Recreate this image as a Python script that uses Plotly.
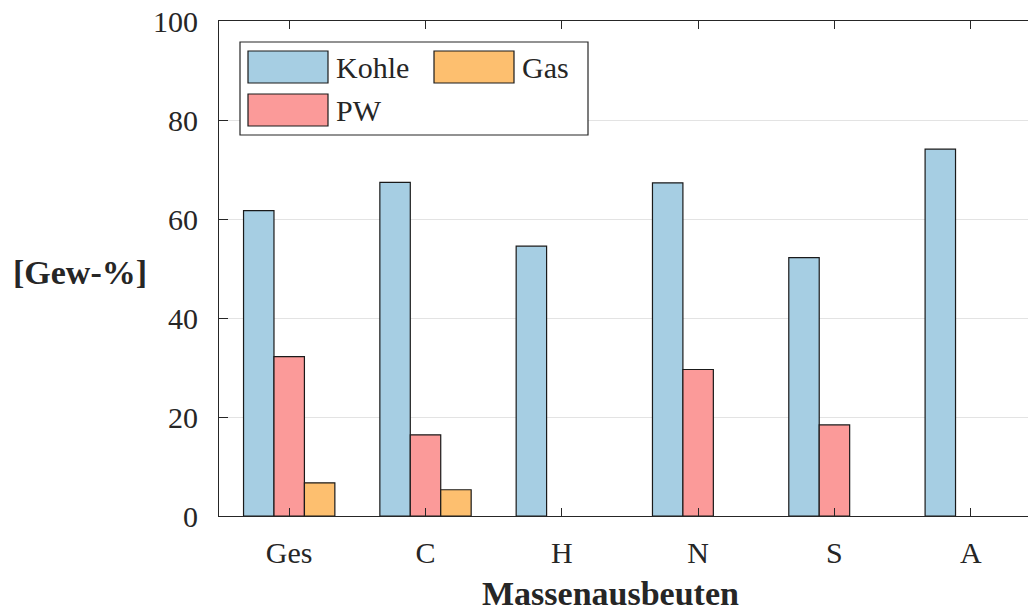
import plotly.graph_objects as go

categories = ["Ges", "C", "H", "N", "S", "A"]
series_names = ["Kohle", "PW", "Gas"]
kohle = [61.7, 67.4, 54.5, 67.3, 52.2, 74.1]
pw = [32.2, 16.4, None, 29.6, 18.4, None]
gas = [6.7, 5.3, None, None, None, None]
colors = {"Kohle": "#a6cee3", "PW": "#fb9a99", "Gas": "#fdbf6f"}
y_ticks = [0, 20, 40, 60, 80, 100]

W, H = 1028, 612
L, R, T, B = 219, 0, 21, 96
PW_ = W - L - R
PH_ = H - T - B

def xp(px):
    return (px - L) / PW_

def yp(py):
    return (H - B - py) / PH_

FONT = "Times New Roman, Liberation Serif, serif"
TXT = "#262626"
AX = "#262626"

fig = go.Figure()
for name, vals in zip(series_names, [kohle, pw, gas]):
    fig.add_trace(go.Bar(
        x=categories, y=vals, name=name,
        marker=dict(color=colors[name], line=dict(color="#1a1a1a", width=1.2)),
        showlegend=False,
    ))

fig.update_layout(
    width=W, height=H,
    margin=dict(l=L, r=R, t=T, b=B),
    paper_bgcolor="white", plot_bgcolor="white",
    barmode="group", bargap=0.33, bargroupgap=0,
    font=dict(family=FONT, size=30, color=TXT),
)
fig.update_xaxes(
    range=[-0.515, 5.42],
    showline=True, linecolor=AX, linewidth=1.2, mirror="ticks",
    ticks="inside", ticklen=8, tickcolor=AX, tickwidth=1.2,
    showgrid=False, zeroline=False,
    tickfont=dict(family=FONT, size=30, color=TXT),
    ticklabelstandoff=10,
)
fig.update_yaxes(
    range=[0, 100], tickvals=y_ticks,
    showline=True, linecolor=AX, linewidth=1.2, mirror=False,
    ticks="inside", ticklen=9, tickcolor=AX, tickwidth=1.2,
    showgrid=True, gridcolor="#e3e3e3", gridwidth=1,
    zeroline=False,
    tickfont=dict(family=FONT, size=30, color=TXT),
    ticklabelstandoff=14,
)

# axis titles
fig.add_annotation(text="<b>[Gew-%]</b>", xref="paper", yref="paper",
                   x=xp(80), y=yp(272), xanchor="center", yanchor="middle",
                   showarrow=False, font=dict(family=FONT, size=34, color=TXT))
fig.add_annotation(text="<b>Massenausbeuten</b>", xref="paper", yref="paper",
                   x=xp(610), y=yp(593), xanchor="center", yanchor="middle",
                   showarrow=False, font=dict(family=FONT, size=34, color=TXT))

# custom legend
fig.add_shape(type="rect", xref="paper", yref="paper",
              x0=xp(240), x1=xp(588), y0=yp(135), y1=yp(42),
              line=dict(color=AX, width=1.2), fillcolor="white", layer="above")
legend_items = [("Kohle", 248, 51), ("Gas", 434, 51), ("PW", 248, 94)]
for name, lx, ly in legend_items:
    fig.add_shape(type="rect", xref="paper", yref="paper",
                  x0=xp(lx), x1=xp(lx + 80), y0=yp(ly + 32), y1=yp(ly),
                  line=dict(color="#1a1a1a", width=1.2), fillcolor=colors[name], layer="above")
    fig.add_annotation(text=name, xref="paper", yref="paper",
                       x=xp(lx + 86), y=yp(ly + 16), xanchor="left", yanchor="middle",
                       showarrow=False, font=dict(family=FONT, size=30, color=TXT))

fig.write_html("out.html")
